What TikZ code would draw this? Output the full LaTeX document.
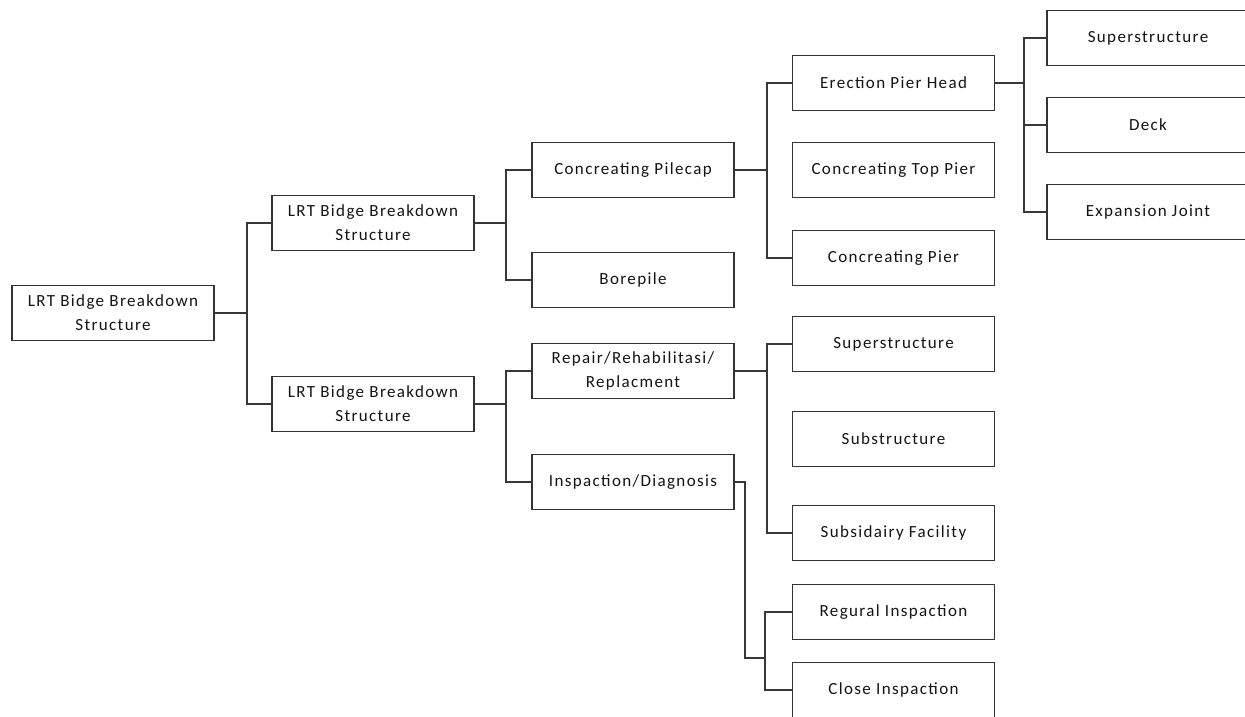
\documentclass[tikz,border=0pt]{standalone}
\usepackage{fontspec}
\usetikzlibrary{calc}
\setmainfont{Carlito}[LetterSpace=8]
\begin{document}
\begin{tikzpicture}[x=1pt,y=-1pt,
  box/.style={draw=black!80, line width=1.8pt, fill=white, minimum width=202pt, minimum height=55pt,
    inner sep=0pt, align=center, text=black!92, font=\fontsize{17}{24}\selectfont},
  conn/.style={draw=black!78, line width=1.9pt}]
\useasboundingbox (0,0) rectangle (1245,717);
\clip (0,0) rectangle (1245,717);
% level 0
\node[box] (root) at (113,313) {LRT Bidge Breakdown\\Structure};
% level 1
\node[box] (a1) at (373,223) {LRT Bidge Breakdown\\Structure};
\node[box] (a2) at (373,404) {LRT Bidge Breakdown\\Structure};
% level 2
\node[box] (b1) at (633,170) {Concreating Pilecap};
\node[box] (b2) at (633,280) {Borepile};
\node[box] (b3) at (633,371) {Repair/Rehabilitasi/\\Replacment};
\node[box] (b4) at (633,482) {Inspaction/Diagnosis};
% level 3
\node[box] (c1) at (893.5,83) {Erection Pier Head};
\node[box] (c2) at (893.5,170) {Concreating Top Pier};
\node[box] (c3) at (893.5,258) {Concreating Pier};
\node[box] (c4) at (893.5,344) {Superstructure};
\node[box] (c5) at (893.5,439) {Substructure};
\node[box] (c6) at (893.5,533) {Subsidairy Facility};
\node[box] (c7) at (893.5,612) {Regural Inspaction};
\node[box] (c8) at (893.5,690) {Close Inspaction};
% level 4
\node[box] (d1) at (1148,38) {Superstructure};
\node[box] (d2) at (1148,125) {Deck};
\node[box] (d3) at (1148,212) {Expansion Joint};
% connectors
\draw[conn] (root.east) -- ++(32,0) |- (a1.west);
\draw[conn] (root.east) -- ++(32,0) |- (a2.west);
\draw[conn] (a1.east) -- ++(31,0) |- (b1.west);
\draw[conn] (a1.east) -- ++(31,0) |- (b2.west);
\draw[conn] (a2.east) -- ++(31,0) |- (b3.west);
\draw[conn] (a2.east) -- ++(31,0) |- (b4.west);
\draw[conn] (b1.east) -- ++(32,0) |- (c1.west);
\draw[conn] (b1.east) -- ++(32,0) |- (c3.west);
\draw[conn] (b3.east) -- ++(32,0) |- (c4.west);
\draw[conn] (b3.east) -- ++(32,0) |- (c6.west);
\coordinate (bend) at ([xshift=10pt]b4.east);
\coordinate (bus) at ($(c7.west)!0.59!(c8.west)+(-27,0)$);
\draw[conn] (b4.east) -- (bend) |- (bus);
\draw[conn] (bus) |- (c7.west);
\draw[conn] (bus) |- (c8.west);
\draw[conn] (c1.east) -- ++(29,0) |- (d1.west);
\draw[conn] (c1.east) -- ++(29,0) |- (d2.west);
\draw[conn] (c1.east) -- ++(29,0) |- (d3.west);
\end{tikzpicture}
\end{document}
